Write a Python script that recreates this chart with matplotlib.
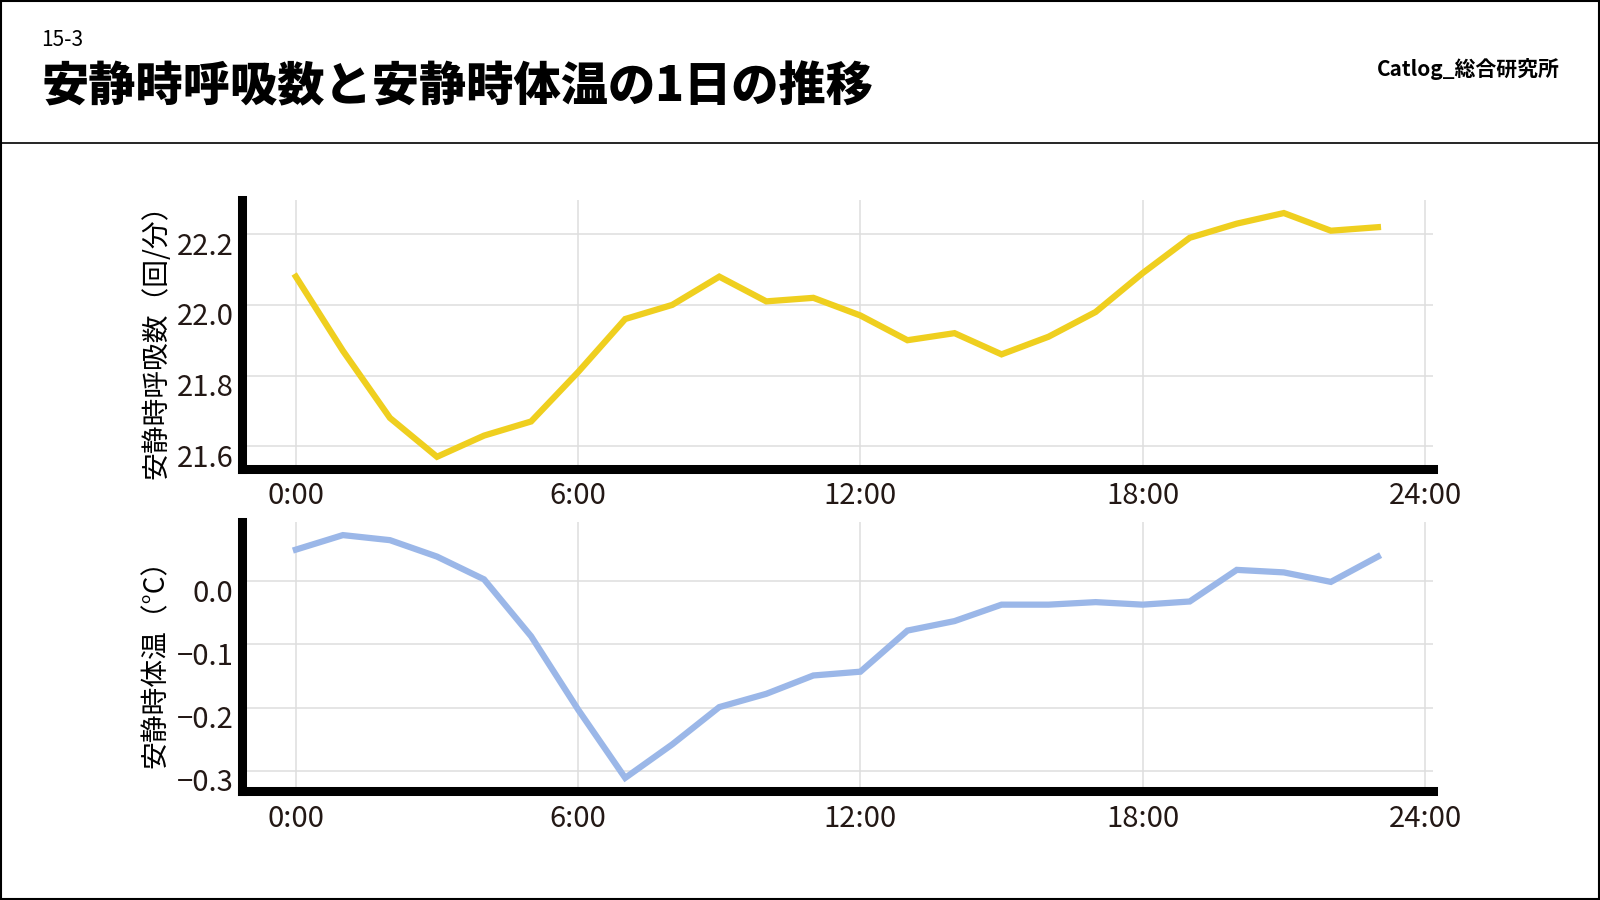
import matplotlib
matplotlib.use("Agg")
import matplotlib.pyplot as plt
from matplotlib.lines import Line2D
from matplotlib.patches import Rectangle
from matplotlib.transforms import ScaledTranslation

plt.rcParams['font.family'] = ['Noto Sans CJK JP', 'DejaVu Sans']

# データ（1時間ごと）
hours = list(range(24))
resp_rate = [22.08, 21.87, 21.68, 21.57, 21.63, 21.67, 21.81, 21.96, 22.00, 22.08,
             22.01, 22.02, 21.97, 21.90, 21.92, 21.86, 21.91, 21.98, 22.09, 22.19,
             22.23, 22.26, 22.21, 22.22]
body_temp = [0.050, 0.073, 0.065, 0.039, 0.003, -0.087, -0.203, -0.311, -0.258, -0.199,
             -0.178, -0.149, -0.143, -0.078, -0.063, -0.037, -0.037, -0.033, -0.037, -0.032,
             0.018, 0.014, -0.001, 0.039]

xticks = [0, 6, 12, 18, 24]
xtick_labels = ['0:00', '6:00', '12:00', '18:00', '24:00']
resp_ticks = [21.6, 21.8, 22.0, 22.2]
temp_ticks = [-0.3, -0.2, -0.1, 0.0]

title = '安静時呼吸数と安静時体温の1日の推移'
chapter = '15-3'
brand = 'Catlog_総合研究所'

YELLOW = '#EFCF1F'
BLUE = '#9BB7E8'

fig = plt.figure(figsize=(16, 9), dpi=100)

# 枠と区切り線
fig.patches.append(Rectangle((0.0005, 0.001), 0.999, 0.998, transform=fig.transFigure,
                             fill=False, edgecolor='black', linewidth=1.5))
fig.lines.append(Line2D([0, 1], [0.8408, 0.8408], transform=fig.transFigure,
                        color='black', linewidth=1.2))

fig.text(0.026, 0.956, chapter, fontsize=15, va='center', ha='left')
fig.text(0.026, 0.903, title, fontsize=34, fontweight='black', va='center', ha='left')
fig.text(0.975, 0.923, brand, fontsize=15, fontweight='bold', va='center', ha='right')


def style_axes(ax, ylabel, yticks, ylim):
    ax.set_xlim(-1.15, 24.17)
    ax.set_ylim(*ylim)
    ax.set_xticks(xticks)
    ax.set_xticklabels(xtick_labels)
    ax.set_yticks(yticks)
    ax.set_yticklabels([f'{v:.1f}'.replace('-', '\u2212') for v in yticks])
    for side in ['top', 'right']:
        ax.spines[side].set_visible(False)
    for side in ['left', 'bottom']:
        ax.spines[side].set_linewidth(6.5)
        ax.spines[side].set_color('black')
    ax.tick_params(axis='x', length=0, pad=9, labelsize=21, labelcolor='#231815')
    ax.tick_params(axis='y', length=0, pad=6, labelsize=21, labelcolor='#231815')
    # 元の図では目盛りラベルが少し下にずれている
    shift = ScaledTranslation(0, -0.09, fig.dpi_scale_trans)
    for lbl in ax.get_yticklabels():
        lbl.set_transform(lbl.get_transform() + shift)
    ax.grid(True, color='#DEDEDE', linewidth=1.1)
    ax.set_axisbelow(True)
    ax.set_ylabel(ylabel, fontsize=20, labelpad=4)


ax1 = fig.add_axes([0.1511, 0.4791, 0.7445, 0.2987])
ax1.plot(hours, resp_rate, color=YELLOW, linewidth=4.5, solid_joinstyle='miter')
style_axes(ax1, '安静時呼吸数（回/分）', resp_ticks, (21.536, 22.297))

ax2 = fig.add_axes([0.1511, 0.1209, 0.7445, 0.2986])
ax2.plot(hours, body_temp, color=BLUE, linewidth=4.5, solid_joinstyle='miter')
style_axes(ax2, '安静時体温（°C）', temp_ticks, (-0.332, 0.093))

fig.savefig('out.png', dpi=100)
